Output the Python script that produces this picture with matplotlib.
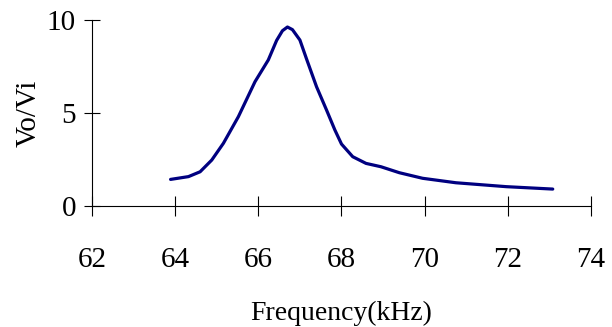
import numpy as np
import matplotlib.pyplot as plt

# frequency response
freq = [63.89, 64.32, 64.6, 64.88, 65.16, 65.52, 65.92, 66.24, 66.44, 66.58, 66.7,
        66.82, 67.0, 67.16, 67.4, 67.64, 67.84, 68.0, 68.27, 68.59, 68.95, 69.39,
        69.95, 70.75, 71.96, 73.08]
gain = [1.43, 1.58, 1.84, 2.47, 3.37, 4.8, 6.68, 7.85, 8.9, 9.42, 9.62,
        9.48, 8.92, 7.9, 6.41, 5.16, 4.09, 3.33, 2.65, 2.29, 2.11, 1.79,
        1.49, 1.25, 1.04, 0.91]
xticks = [62, 64, 66, 68, 70, 72, 74]
yticks = [0, 5, 10]

plt.rcParams['font.family'] = ['Liberation Serif', 'DejaVu Serif']

fig = plt.figure(figsize=(6.12, 3.27), dpi=100)
ax = fig.add_axes([0.1503, 0.370, 0.8154, 0.569])
ax.plot(freq, gain, color='#000080', linewidth=2.3, solid_capstyle='round',
        solid_joinstyle='round')

ax.set_xlim(62, 74)
ax.set_ylim(0, 10)
ax.set_xticks(xticks)
ax.set_yticks(yticks)
ax.tick_params(axis='x', direction='inout', length=15, width=0.8, labelsize=21, pad=22)
ax.tick_params(axis='y', direction='inout', length=11, width=0.8, labelsize=21, pad=6)
for s in ['top', 'right']:
    ax.spines[s].set_visible(False)
ax.set_xlabel('Frequency(kHz)', fontsize=20, labelpad=20)
ax.set_ylabel('Vo/Vi', fontsize=21, labelpad=4)

fig.savefig('out.png', dpi=100)
